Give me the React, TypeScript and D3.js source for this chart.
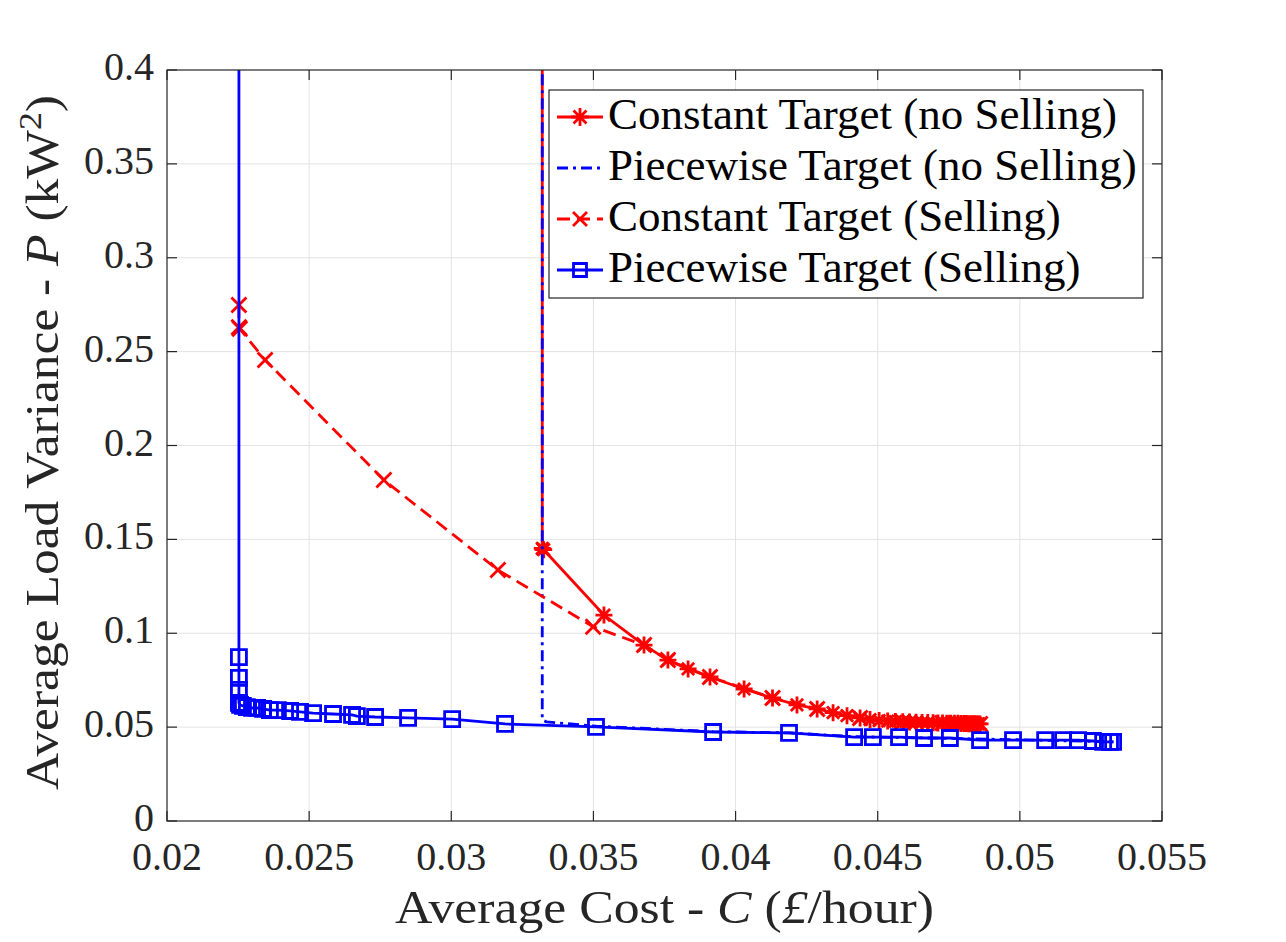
import React, { useEffect, useRef } from 'react';
import * as d3 from 'd3';

// tick values and labels
const xTicks = [0.02, 0.025, 0.03, 0.035, 0.04, 0.045, 0.05, 0.055];
const xTickLabels = ['0.02', '0.025', '0.03', '0.035', '0.04', '0.045', '0.05', '0.055'];
const yTicks = [0, 0.05, 0.1, 0.15, 0.2, 0.25, 0.3, 0.35, 0.4];
const yTickLabels = ['0', '0.05', '0.1', '0.15', '0.2', '0.25', '0.3', '0.35', '0.4'];

// Constant Target (no Selling) - first point lies above the visible range
const constNoSellX = [0.0332, 0.0332, 0.03322, 0.03325, 0.03537, 0.03678, 0.03762, 0.03833, 0.0391, 0.0403,
  0.0413, 0.04216, 0.04287, 0.04343, 0.04392, 0.04438, 0.04473, 0.04505, 0.04535, 0.04562, 0.04588, 0.04612,
  0.04635, 0.04656, 0.04676, 0.04695, 0.04712, 0.04728, 0.04743, 0.04757, 0.0477, 0.04782, 0.04793, 0.04803,
  0.04812, 0.0482, 0.04828, 0.04835, 0.04842, 0.04848, 0.04854, 0.0486];
const constNoSellY = [0.5, 0.1452, 0.1448, 0.1445, 0.1097, 0.0937, 0.0857, 0.081, 0.0767, 0.0703,
  0.0655, 0.0618, 0.0597, 0.0577, 0.0561, 0.0549, 0.054, 0.0535, 0.0532, 0.053, 0.0528, 0.0527,
  0.0526, 0.0525, 0.0524, 0.0523, 0.0522, 0.0522, 0.0521, 0.0521, 0.052, 0.052, 0.0519, 0.0519,
  0.0519, 0.0518, 0.0518, 0.0518, 0.0518, 0.0517, 0.0517, 0.0517];

// Piecewise Target (no Selling)
const pieceNoSellX = [0.0332, 0.0332, 0.03335, 0.0351, 0.0392, 0.0419, 0.0442, 0.0475, 0.0505, 0.0533];
const pieceNoSellY = [0.5, 0.0538, 0.0528, 0.0505, 0.0476, 0.0469, 0.0449, 0.044, 0.0431, 0.0421];

// Constant Target (Selling)
const constSellX = [0.02253, 0.02253, 0.02256, 0.02345, 0.02763, 0.03164, 0.03499, 0.03678, 0.03762, 0.0391,
  0.0413, 0.04287, 0.04438, 0.04588, 0.04728, 0.0486];
const constSellY = [0.2748, 0.263, 0.2622, 0.2455, 0.1816, 0.1337, 0.1035, 0.0937, 0.0857, 0.0767,
  0.0655, 0.0597, 0.0549, 0.0528, 0.0522, 0.0517];

// Piecewise Target (Selling) - first point lies above the visible range
const pieceSellX = [0.02253, 0.02253, 0.02253, 0.02253, 0.02253, 0.02257, 0.02267, 0.02281, 0.02299, 0.02317,
  0.02338, 0.02362, 0.0239, 0.02433, 0.02468, 0.02514, 0.02584, 0.02651, 0.02668, 0.02732, 0.02848, 0.03003,
  0.03189, 0.03509, 0.03921, 0.04188, 0.04417, 0.04483, 0.04575, 0.04663, 0.04754, 0.0486, 0.04976, 0.05089,
  0.05152, 0.05205, 0.05257, 0.05293, 0.05317, 0.05328];
const pieceSellY = [0.5, 0.0873, 0.0762, 0.0698, 0.0629, 0.0618, 0.0613, 0.0607, 0.0602, 0.0602,
  0.0597, 0.0591, 0.0591, 0.0586, 0.0581, 0.0575, 0.057, 0.0565, 0.0559, 0.0554, 0.0549, 0.0543,
  0.0517, 0.0501, 0.0474, 0.0469, 0.0447, 0.0447, 0.0447, 0.0442, 0.0442, 0.0431, 0.0431, 0.0431,
  0.0431, 0.0431, 0.0426, 0.0421, 0.0421, 0.0421];

const legendLabels = [
  'Constant Target (no Selling)',
  'Piecewise Target (no Selling)',
  'Constant Target (Selling)',
  'Piecewise Target (Selling)',
];

const FONT = '"Liberation Serif", "Times New Roman", serif';
const AX = '#262626';
const LW = 2.8;

const markerPath = (kind: string, s: number) => {
  const d = s * 0.72;
  if (kind === 'star') return `M0,${-s}V${s}M${-s},0H${s}M${-d},${-d}L${d},${d}M${-d},${d}L${d},${-d}`;
  if (kind === 'x') return `M${-s},${-s}L${s},${s}M${-s},${s}L${s},${-s}`;
  if (kind === 'square') return `M${-s},${-s}H${s}V${s}H${-s}Z`;
  return '';
};

const App = () => {
  const svgRef = useRef<SVGSVGElement>(null);

  useEffect(() => {
    const W = 1286, H = 942;
    const left = 167, right = 1162, top = 70, bottom = 821;

    const svg = d3.select(svgRef.current);
    svg.selectAll('*').remove();
    svg.attr('width', W).attr('height', H);
    svg.append('rect').attr('width', W).attr('height', H).attr('fill', '#fff');

    const x = d3.scaleLinear().domain([0.02, 0.055]).range([left, right]);
    const y = d3.scaleLinear().domain([0, 0.4]).range([bottom, top]);

    svg.append('defs').append('clipPath').attr('id', 'plotclip')
      .append('rect').attr('x', left).attr('y', top).attr('width', right - left).attr('height', bottom - top);

    // grid
    const grid = svg.append('g').attr('stroke', '#e3e3e3').attr('stroke-width', 1);
    xTicks.slice(1, -1).forEach(t => {
      grid.append('line').attr('x1', x(t)).attr('x2', x(t)).attr('y1', top).attr('y2', bottom);
    });
    yTicks.slice(1, -1).forEach(t => {
      grid.append('line').attr('x1', left).attr('x2', right).attr('y1', y(t)).attr('y2', y(t));
    });

    // series
    const plot = svg.append('g').attr('clip-path', 'url(#plotclip)');
    const drawSeries = (xs: number[], ys: number[], color: string, dash: string | null, marker: string | null, ms: number) => {
      const pts: [number, number][] = xs.map((v, i) => [v, ys[i]]);
      const line = d3.line<[number, number]>().x(d => x(d[0])).y(d => y(d[1]));
      const p = plot.append('path').datum(pts).attr('d', line).attr('fill', 'none')
        .attr('stroke', color).attr('stroke-width', LW).attr('stroke-linejoin', 'round');
      if (dash) p.attr('stroke-dasharray', dash);
      if (marker) {
        plot.append('g').selectAll('path').data(pts).join('path')
          .attr('d', markerPath(marker, ms))
          .attr('transform', d => `translate(${x(d[0])},${y(d[1])})`)
          .attr('fill', 'none').attr('stroke', color).attr('stroke-width', LW);
      }
    };
    drawSeries(constNoSellX, constNoSellY, '#ff0000', null, 'star', 8.5);
    drawSeries(pieceNoSellX, pieceNoSellY, '#0000ff', '11,5,3,5', null, 0);
    drawSeries(constSellX, constSellY, '#ff0000', '13,7', 'x', 7.5);
    drawSeries(pieceSellX, pieceSellY, '#0000ff', null, 'square', 7.5);

    // axes box + ticks (inward, on all sides)
    const ax = svg.append('g').attr('stroke', AX).attr('stroke-width', 1.2).attr('fill', 'none');
    ax.append('rect').attr('x', left).attr('y', top).attr('width', right - left).attr('height', bottom - top);
    const tl = 10;
    xTicks.forEach(t => {
      ax.append('line').attr('x1', x(t)).attr('x2', x(t)).attr('y1', bottom).attr('y2', bottom - tl);
      ax.append('line').attr('x1', x(t)).attr('x2', x(t)).attr('y1', top).attr('y2', top + tl);
    });
    yTicks.forEach(t => {
      ax.append('line').attr('x1', left).attr('x2', left + tl).attr('y1', y(t)).attr('y2', y(t));
      ax.append('line').attr('x1', right).attr('x2', right - tl).attr('y1', y(t)).attr('y2', y(t));
    });

    // tick labels
    const tg = svg.append('g').attr('font-family', FONT).attr('font-size', 40).attr('fill', AX);
    xTicks.forEach((t, i) => {
      tg.append('text').attr('x', x(t)).attr('y', 870).attr('text-anchor', 'middle').text(xTickLabels[i]);
    });
    yTicks.forEach((t, i) => {
      tg.append('text').attr('x', 154).attr('y', y(t) + 10).attr('text-anchor', 'end').text(yTickLabels[i]);
    });

    // axis labels
    const xl = svg.append('text').attr('font-family', FONT).attr('font-size', 46).attr('fill', AX)
      .attr('x', (left + right) / 2).attr('y', 923).attr('text-anchor', 'middle')
      .attr('textLength', 539).attr('lengthAdjust', 'spacingAndGlyphs');
    xl.append('tspan').text('Average Cost - ');
    xl.append('tspan').attr('font-style', 'italic').text('C');
    xl.append('tspan').text(' (');
    xl.append('tspan').attr('font-style', 'italic').text('£');
    xl.append('tspan').text('/hour)');

    const yl = svg.append('text').attr('font-family', FONT).attr('font-size', 46).attr('fill', AX)
      .attr('transform', `translate(58,${(95 + 790) / 2}) rotate(-90)`).attr('text-anchor', 'middle')
      .attr('textLength', 695).attr('lengthAdjust', 'spacingAndGlyphs');
    yl.append('tspan').text('Average Load Variance - ');
    yl.append('tspan').attr('font-style', 'italic').text('P');
    yl.append('tspan').text(' (kW');
    yl.append('tspan').attr('font-size', 32).attr('dy', -17).text('2');
    yl.append('tspan').attr('dy', 17).text(')');

    // legend
    const lg = svg.append('g');
    lg.append('rect').attr('x', 549).attr('y', 90).attr('width', 594).attr('height', 208)
      .attr('fill', '#fff').attr('stroke', AX).attr('stroke-width', 1.2);
    const legendStyles = [
      { color: '#ff0000', dash: null, marker: 'star', ms: 9 },
      { color: '#0000ff', dash: '11,5,3,5', marker: null, ms: 0 },
      { color: '#ff0000', dash: '13,7', marker: 'x', ms: 7 },
      { color: '#0000ff', dash: null, marker: 'square', ms: 6.5 },
    ];
    legendLabels.forEach((label, i) => {
      const cy = 117 + i * 51;
      const st = legendStyles[i];
      const ln = lg.append('line').attr('x1', 557).attr('x2', 603).attr('y1', cy).attr('y2', cy)
        .attr('stroke', st.color).attr('stroke-width', LW);
      if (st.dash) ln.attr('stroke-dasharray', st.dash);
      if (st.marker) {
        lg.append('path').attr('d', markerPath(st.marker, st.ms)).attr('transform', `translate(580,${cy})`)
          .attr('fill', 'none').attr('stroke', st.color).attr('stroke-width', LW);
      }
      lg.append('text').attr('x', 608).attr('y', cy + 12).attr('font-family', FONT).attr('font-size', 45)
        .attr('fill', '#000').text(label);
    });
  }, []);

  return <svg ref={svgRef} style={{ position: 'absolute', left: 0, top: 0 }} />;
};

export default App;
